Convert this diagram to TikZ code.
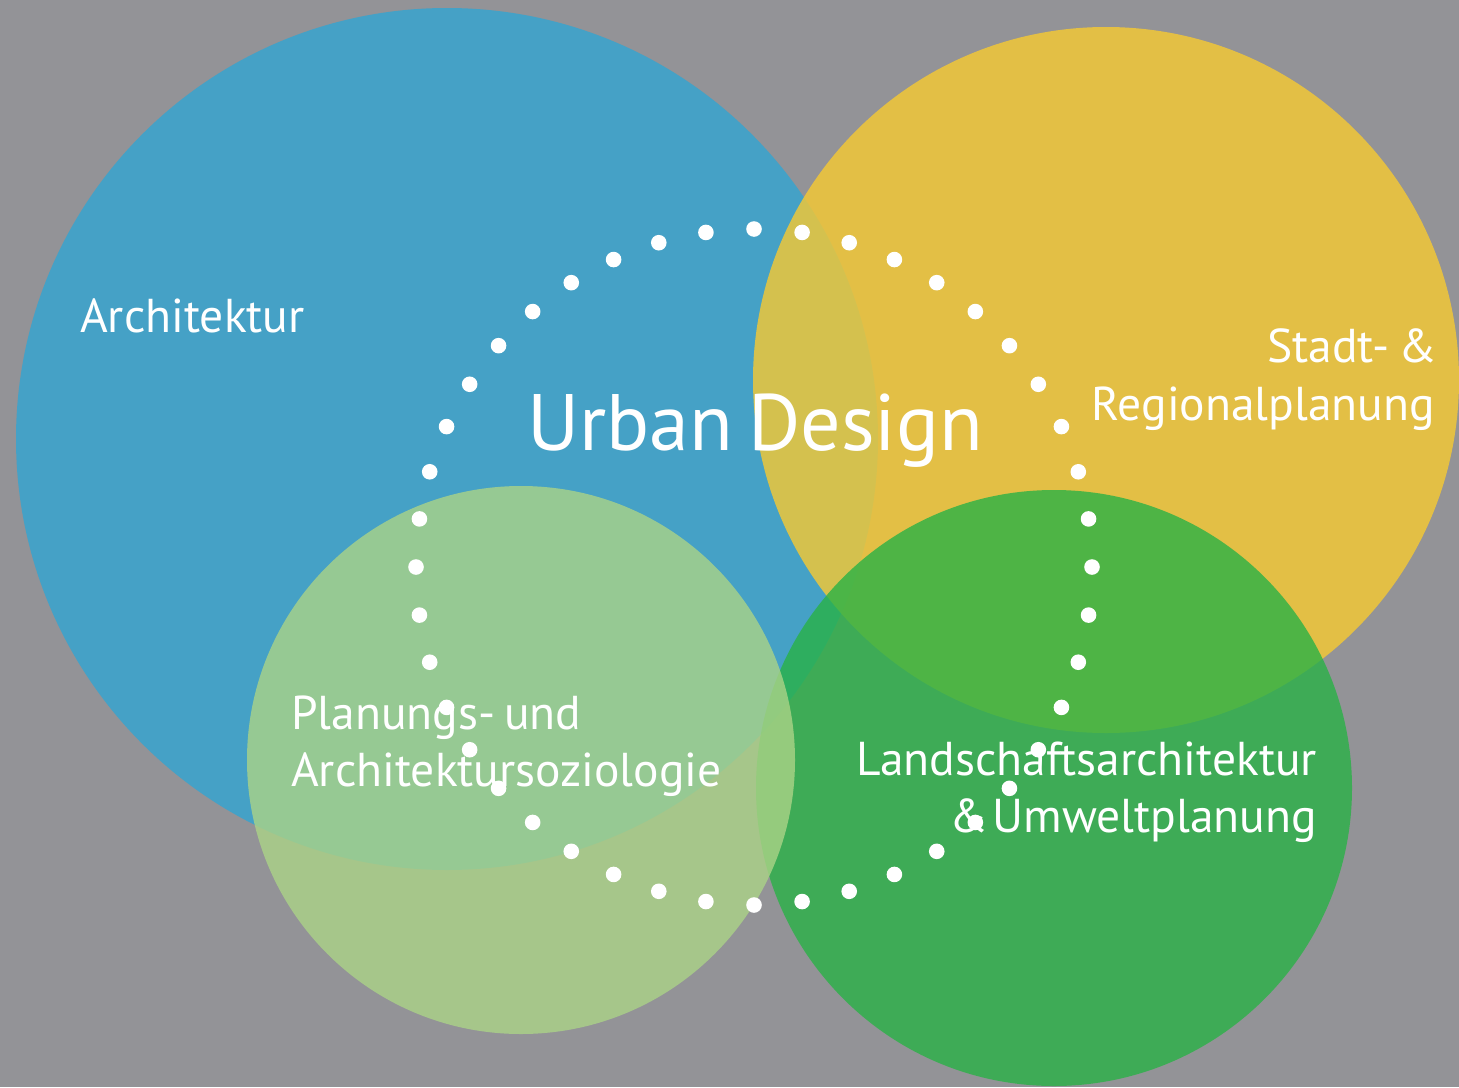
\documentclass[tikz,border=0pt]{standalone}
\usepackage{fontspec}
\setmainfont{PT Sans}[WordSpace=0.7]
\usetikzlibrary{calc}
\definecolor{bgC}{RGB}{147,147,151}
\definecolor{blueC}{RGB}{69,161,198}
\definecolor{yellowC}{RGB}{248,202,49}
\definecolor{greenC}{RGB}{41,178,70}
\definecolor{lightC}{RGB}{171,211,135}
\begin{document}
\begin{tikzpicture}[x=1pt,y=-1pt,
  lbl/.style={text=white, inner sep=0pt, font=\fontsize{47.5}{57}\selectfont},
  big/.style={text=white, inner sep=0pt, font=\fontsize{80}{96}\selectfont},
  disc/.style={fill opacity=0.8},
  dot/.style={fill=white}]
\useasboundingbox (0,0) rectangle (1459,1087);
\fill[bgC] (0,0) rectangle (1459,1087);
% circles
\fill[blueC] (447,439) circle[radius=431pt];
\fill[yellowC, disc] (1106,380) circle[radius=353pt];
\fill[greenC, disc] (1054,788) circle[radius=298pt];
\fill[lightC, disc] (521,760) circle[radius=274pt];
% labels
\node[lbl, anchor=base west] (arch) at (80,332) {Architektur};
\node[big, anchor=base west] (ud) at (527,450) {Urban Design};
\node[lbl, anchor=base east] (stadtA) at (1437,362) {Stadt- \&};
\node[lbl, anchor=base east] (stadtB) at (1435,420) {Regionalplanung};
\node[lbl, anchor=base west] (planA) at (291,729) {Planungs- und};
\node[lbl, anchor=base west] (planB) at (291,786) {Architektursoziologie};
\node[lbl, anchor=base east] (landA) at (1317,775) {Landschaftsarchitektur};
\node[lbl, anchor=base east] (landB) at (1317,832) {\&\hspace{-0.1em} Umweltplanung};
% dotted ring
\coordinate (ring) at (754,567);
\foreach \k in {0,...,43}
  \fill[dot] ($(ring)+({\k*360/44}:338pt)$) circle[radius=7.8pt];
\end{tikzpicture}
\end{document}
